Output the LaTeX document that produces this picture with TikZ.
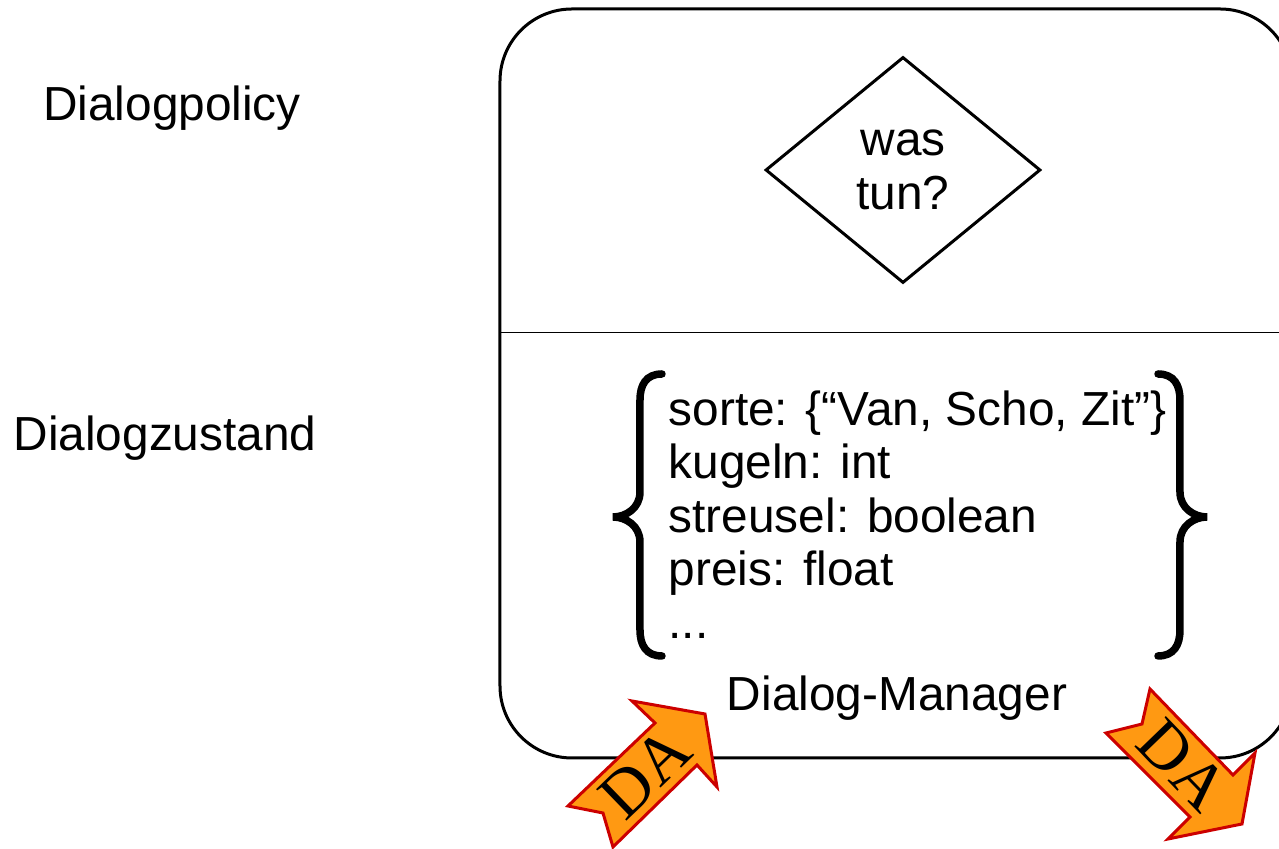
\documentclass[tikz,border=0pt]{standalone}
\usetikzlibrary{shapes.geometric}
\usepackage{fontspec}
\setmainfont{Liberation Sans}
\newfontfamily\daserif{Liberation Serif}
\definecolor{DAfill}{HTML}{FF9912}
\definecolor{DAline}{HTML}{CC0000}

\begin{document}
\begin{tikzpicture}[x=0.1mm,y=-0.1mm,
  sidetext/.style={font=\fontsize{13.6}{15.2}\selectfont},
  brace/.style={line width=0.75mm,line cap=round},
  daarrow/.style={fill=DAfill,draw=DAline,line width=0.3mm,line join=miter},
  datext/.style={font=\daserif\fontsize{19}{19}\selectfont,inner sep=0pt}]
\useasboundingbox (0,0) rectangle (1279,849);
\clip (0,0) rectangle (1279,849);
% Dialog-Manager box
\draw[line width=0.3mm,rounded corners=7.2mm] (500,9) rectangle (1292,758);
\draw[line width=0.1mm] (500,333) -- (1292,333);
\node[sidetext] (policy) at (172,108) {Dialogpolicy};
\node[sidetext] (zustand) at (165,438) {Dialogzustand};
\node[sidetext,draw,diamond,line width=0.3mm,minimum width=27.5mm,minimum height=22.6mm,inner sep=0pt,align=center] (task) at (903,170) {was\\tun?};
\node[sidetext,align=left,anchor=base west,inner sep=0pt] (slots) at (668,639) {sorte: \{“Van, Scho, Zit”\}\\kugeln: int\\streusel: boolean\\preis: float\\...};
\node[sidetext] (manager) at (897,698) {Dialog-Manager};
% braces
\draw[brace] (662,374) .. controls (646,374) and (640,385) .. (640,400) -- (640,492) .. controls (640,508) and (626,517) .. (613,517) .. controls (626,517) and (640,526) .. (640,542) -- (640,630) .. controls (640,645) and (646,656) .. (662,656);
\draw[brace] (1158,374) .. controls (1174,374) and (1180,385) .. (1180,400) -- (1180,492) .. controls (1180,508) and (1194,517) .. (1207,517) .. controls (1194,517) and (1180,526) .. (1180,542) -- (1180,630) .. controls (1180,645) and (1174,656) .. (1158,656);
% DA arrows
\draw[daarrow] (632,701) -- (655,723) -- (568,806) -- (603,813) -- (613,847) -- (697,765) -- (717,787) -- (705,714) -- cycle;
\node[datext,rotate=44] (dain) at (645,773) {DA};
\draw[daarrow] (1150,689) -- (1142,724) -- (1106,733) -- (1190,817) -- (1168,839) -- (1242,824) -- (1255,753) -- (1233,775) -- cycle;
\node[datext,rotate=-46] (daout) at (1183,765) {DA};
\end{tikzpicture}
\end{document}
